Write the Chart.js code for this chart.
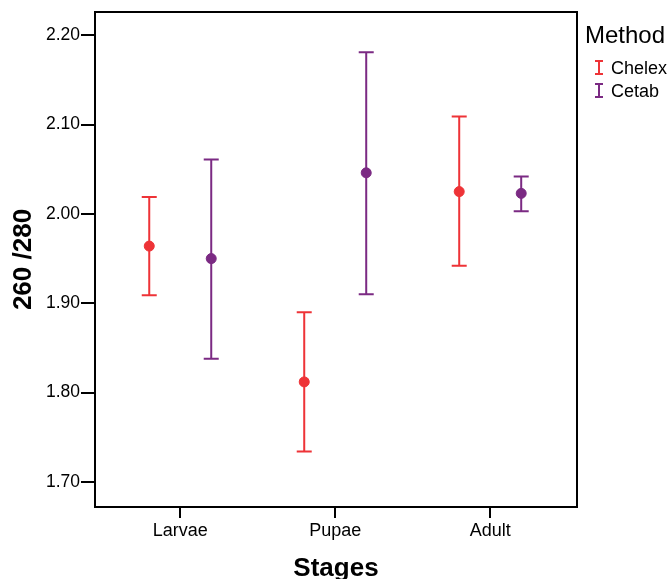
<!DOCTYPE html>
<html><head><meta charset="utf-8">
<script src="https://cdn.jsdelivr.net/npm/chart.js@4/dist/chart.umd.min.js"></script>
<style>html,body{margin:0;padding:0;background:#fff}#wrap{width:672px;height:579px}</style>
</head><body><div id="wrap"><canvas id="c" width="672" height="579"></canvas></div>
<script>
const categories = ["Larvae", "Pupae", "Adult"];
const seriesNames = ["Chelex", "Cetab"];
const chelexMean = [1.964, 1.812, 2.025];
const chelexLow  = [1.909, 1.734, 1.942];
const chelexHigh = [2.019, 1.890, 2.109];
const cetabMean  = [1.950, 2.046, 2.023];
const cetabLow   = [1.838, 1.910, 2.003];
const cetabHigh  = [2.061, 2.181, 2.042];
const yTicks = [1.70, 1.80, 1.90, 2.00, 2.10, 2.20];
const colors = ["#ee3337", "#7b2a83"];
const offsets = [-0.2, 0.2];
const FONT = '"Liberation Sans", Arial, sans-serif';

function mk(means, lows, highs, k) {
  return means.map((m, i) => ({x: i + offsets[k], y: m, lo: lows[i], hi: highs[i]}));
}
const data = {
  datasets: [
    {label: seriesNames[0], data: mk(chelexMean, chelexLow, chelexHigh, 0), backgroundColor: colors[0], borderColor: colors[0], pointRadius: 5, pointHoverRadius: 5},
    {label: seriesNames[1], data: mk(cetabMean, cetabLow, cetabHigh, 1), backgroundColor: colors[1], borderColor: colors[1], pointRadius: 5, pointHoverRadius: 5}
  ]
};

const errPlugin = {
  id: 'err',
  beforeDatasetsDraw(chart) {
    const ctx = chart.ctx, xs = chart.scales.x, ys = chart.scales.y;
    chart.data.datasets.forEach(ds => {
      ctx.save();
      ctx.strokeStyle = ds.borderColor; ctx.lineWidth = 2;
      ds.data.forEach(p => {
        const x = xs.getPixelForValue(p.x), y1 = ys.getPixelForValue(p.lo), y2 = ys.getPixelForValue(p.hi);
        ctx.beginPath();
        ctx.moveTo(x, y1); ctx.lineTo(x, y2);
        ctx.moveTo(x - 7.5, y1); ctx.lineTo(x + 7.5, y1);
        ctx.moveTo(x - 7.5, y2); ctx.lineTo(x + 7.5, y2);
        ctx.stroke();
      });
      ctx.restore();
    });
  },
  afterDraw(chart) {
    const ctx = chart.ctx, a = chart.chartArea;
    ctx.save();
    ctx.strokeStyle = '#000'; ctx.lineWidth = 2;
    ctx.strokeRect(a.left, a.top, a.right - a.left, a.bottom - a.top);
    // legend
    ctx.fillStyle = '#000';
    ctx.font = '24px ' + FONT;
    ctx.textBaseline = 'alphabetic'; ctx.textAlign = 'left';
    ctx.fillText('Method', 585, 43);
    ctx.font = '18px ' + FONT;
    seriesNames.forEach((n, i) => {
      const base = 74 + i * 23;
      const yc = base - 6.5;
      ctx.strokeStyle = colors[i]; ctx.lineWidth = 2;
      ctx.beginPath();
      ctx.moveTo(599, yc - 6.5); ctx.lineTo(599, yc + 6.5);
      ctx.moveTo(595, yc - 6.5); ctx.lineTo(603, yc - 6.5);
      ctx.moveTo(595, yc + 6.5); ctx.lineTo(603, yc + 6.5);
      ctx.stroke();
      ctx.fillStyle = '#000';
      ctx.fillText(n, 611, base);
    });
    ctx.restore();
  }
};

new Chart(document.getElementById('c'), {
  type: 'scatter',
  data,
  plugins: [errPlugin],
  options: {
    responsive: false, animation: false, devicePixelRatio: 1,
    layout: {padding: {left: 8, right: 95, top: 12, bottom: 0}},
    plugins: {legend: {display: false}, tooltip: {enabled: false}},
    scales: {
      x: {
        type: 'linear', min: -0.55, max: 2.56,
        afterBuildTicks: s => { s.ticks = categories.map((c, i) => ({value: i})); },
        afterFit: s => { s.height = 72; },
        grid: {display: true, drawOnChartArea: false, drawTicks: true, tickLength: 11, color: '#000', lineWidth: 2},
        border: {display: false},
        ticks: {color: '#000', padding: 2, font: {size: 18, family: FONT}, callback: v => categories[v]},
        title: {display: true, text: 'Stages', color: '#000', padding: {top: 4, bottom: 0}, font: {size: 26, weight: 'bold', family: FONT, lineHeight: 0.75}}
      },
      y: {
        min: 1.672, max: 2.226,
        afterBuildTicks: s => { s.ticks = yTicks.map(v => ({value: v})); },
        afterFit: s => { s.width = 87; },
        grid: {display: true, drawOnChartArea: false, drawTicks: true, tickLength: 14, color: '#000', lineWidth: 2},
        border: {display: false},
        ticks: {color: '#000', padding: 1, font: {size: 17.5, family: FONT}, callback: v => Number(v).toFixed(2)},
        title: {display: true, text: '260 /280', color: '#000', padding: {top: 0, bottom: 4}, font: {size: 26, weight: 'bold', family: FONT}}
      }
    }
  }
});
</script></body></html>
